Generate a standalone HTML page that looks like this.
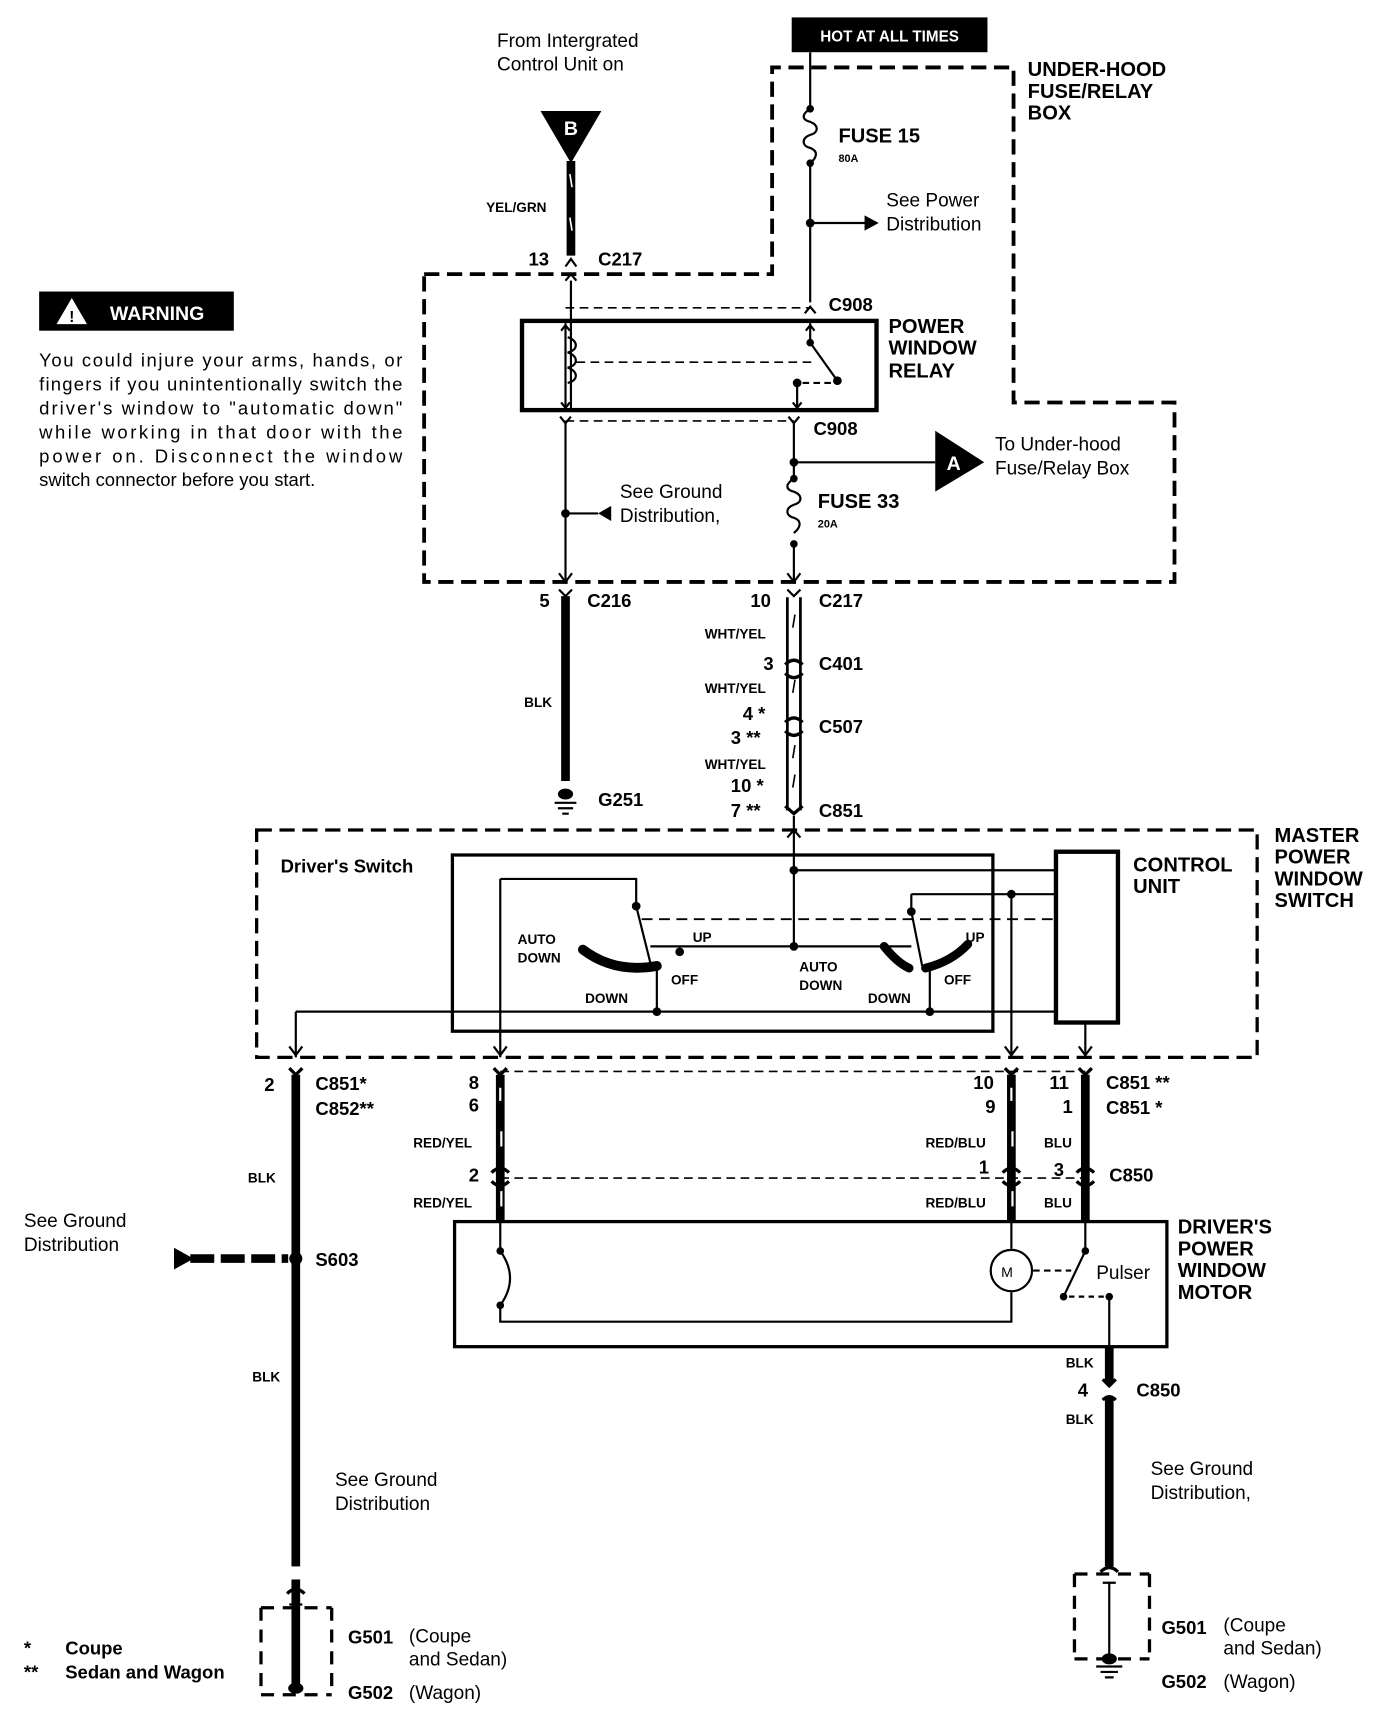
<!DOCTYPE html>
<html><head><meta charset="utf-8"><style>
html,body{margin:0;padding:0;background:#fff}
svg{display:block}
text{font-family:"Liberation Sans",sans-serif;fill:#000}
.b{font-weight:bold}
.t{font-size:17.5px}
.h{font-size:18.5px;font-weight:bold}
.s{font-size:12.5px;font-weight:bold}
.c{font-size:17px;font-weight:bold}
</style></head><body>
<svg width="1392" height="1710" viewBox="0 0 1280 1572" preserveAspectRatio="none" xmlns="http://www.w3.org/2000/svg">
<g fill="none" stroke="#000" stroke-width="2">
<!-- dashed boxes -->
<path d="M390 252 H710 V62 H932 V370 H1080 V535 H390 Z" stroke-width="3.5" stroke-dasharray="14 7"/>
<path d="M236 763 H1156 V972 H236 Z" stroke-width="3" stroke-dasharray="14 7"/>
<path d="M520 283 H745 M520 387 H730" stroke-dasharray="8 5" stroke-width="1.5"/>
<path d="M460 985 H998 M460 1083 H998" stroke-dasharray="8 5" stroke-width="1.5"/>
<path d="M240 1478 V1558 M305 1478 V1558 M240 1478 H305 M240 1558 H305" stroke-width="3" stroke-dasharray="12 8"/>
<path d="M988 1447 V1525 M1057 1447 V1525 M988 1447 H1057 M988 1525 H1057" stroke-width="3" stroke-dasharray="12 8"/>
<!-- top-left wire -->
<path d="M525 148 V235" stroke-width="8"/>
<path d="M524 160 l2 12 M524 200 l2 12" stroke="#fff" stroke-width="1.5"/>
<path d="M520 245 l5 -7 l5 7 M520 258 l5 -6 l5 6"/>
<path d="M525 258 V377"/>
<!-- fuse15 line -->
<path d="M745 48 V100 M745 150 V278"/>
<path d="M745 100 c-8 5 -8 10 0 12 c8 3 8 10 0 12 c-8 3 -8 10 0 12 c8 3 6 9 0 14"/>
<path d="M745 205 H798"/>
<path d="M740 288 l5 -6 l5 6"/>
<!-- relay -->
<rect x="480" y="295" width="326" height="82" stroke-width="4"/>
<path d="M520 297 V377 M516 304 l4 -5 l4 5 M516 370 l4 5 l4 -5"/>
<path d="M522 310 c10 3 10 12 0 14 c10 3 10 12 0 14 c10 3 10 12 0 14"/>
<path d="M530 333 H748" stroke-dasharray="8 5" stroke-width="1.5"/>
<path d="M745 297 V315 L770 350 M741 304 l4 -5 l4 5"/>
<path d="M738 352 H768" stroke-dasharray="6 4"/>
<path d="M733 352 V377 M729 370 l4 5 l4 -5"/>
<!-- below relay -->
<path d="M515 383 l5 6 l5 -6 M725 383 l5 6 l5 -6"/>
<path d="M520 389 V535 M730 389 V440 M730 500 V535 M514 527 l6 8 l6 -8 M724 527 l6 8 l6 -8"/>
<path d="M730 440 c-8 5 -8 10 0 12 c8 3 8 10 0 12 c-8 3 -8 10 0 12 c8 3 6 9 0 14"/>
<path d="M730 425 H860 M520 472 H550"/>
<!-- C216/C217 -->
<path d="M514 542 l6 6 l6 -6 M724 542 l6 6 l6 -6"/>
<path d="M520 548 V718" stroke-width="8"/>
<path d="M724 549 V745 M736 549 V745" stroke-width="2.5"/>
<path d="M731 565 l-2 12 M731 625 l-2 12 M731 685 l-2 12 M731 712 l-2 12" stroke-width="1.5"/>
<path d="M722 611 q8 -8 16 0 M722 619 q8 8 16 0 M722 664 q8 -8 16 0 M722 672 q8 8 16 0 M722 741 l8 7 l8 -7" stroke-width="3"/>
<!-- G251 -->
<path d="M510 738 H530 M513 743 H527 M517 748 H523"/>
<!-- master switch -->
<path d="M730 750 V870 M724 770 l6 -7 l6 7"/>
<rect x="416" y="786" width="497" height="162" stroke-width="3"/>
<rect x="971" y="783" width="57" height="157" stroke-width="4"/>
<path d="M730 800 H971 M460 808 H585 V833 L598 885 M598 870 H838 M838 822 H971 V822 M838 822 V838 L848 888"/>
<path d="M590 845 H971" stroke-dasharray="10 6" stroke-width="1.8"/>
<path d="M536 873 Q565 895 604 888" stroke-width="9" stroke-linecap="round"/>
<path d="M813 870 Q825 885 836 890" stroke-width="8" stroke-linecap="round"/>
<path d="M851 890 Q875 884 890 868" stroke-width="8" stroke-linecap="round"/>
<path d="M604 888 V930 M855 890 V930 M272 930 H971 M272 930 V972 M460 808 V972 M930 822 V972 M998 940 V972"/>
<path d="M266 962 l6 8 l6 -8 M454 962 l6 8 l6 -8 M924 962 l6 8 l6 -8 M992 962 l6 8 l6 -8"/>
<!-- lower connectors -->
<path d="M266 982 l6 6 l6 -6 M454 982 l6 6 l6 -6 M924 982 l6 6 l6 -6 M992 982 l6 6 l6 -6" stroke-width="3"/>
<path d="M272 988 V1550 M460 988 V1123 M930 988 V1123 M998 988 V1123" stroke-width="8"/>
<path d="M272 1440 V1452" stroke="#fff" stroke-width="9"/>
<path d="M460 1000 v12 M461 1040 v14 M461 1095 v14 M930 1000 v12 M931 1040 v14 M931 1095 v14" stroke="#fff" stroke-width="2"/>
<path d="M452 1078 q8 -8 16 0 M452 1086 q8 8 16 0 M922 1078 q8 -8 16 0 M922 1086 q8 8 16 0 M990 1078 q8 -8 16 0 M990 1086 q8 8 16 0" stroke="#000" stroke-width="3"/>
<path d="M175 1157 H265" stroke-width="8" stroke-dasharray="22 6"/>
<!-- motor -->
<rect x="418" y="1123" width="655" height="115" stroke-width="3"/>
<path d="M460 1123 V1150 Q478 1175 460 1200 V1215 H930 V1188 M930 1123 V1148"/>
<circle cx="930" cy="1168" r="19"/>
<path d="M950 1168 H985" stroke-dasharray="6 4"/>
<path d="M998 1123 V1150 L978 1192"/>
<path d="M983 1192 H1018" stroke-dasharray="5 4"/>
<path d="M1020 1192 V1238"/>
<path d="M1020 1238 V1440" stroke-width="8"/>
<path d="M1020 1272 V1284" stroke="#fff" stroke-width="9"/>
<path d="M1014 1268 l6 6 l6 -6 M1014 1287 q6 -6 12 0" stroke-width="3"/>
<path d="M1012 1445 q8 -8 16 0 M264 1465 q8 -8 16 0" stroke-width="3"/>
<path d="M1020 1455 V1525 M1014 1455 h12 M272 1475 V1550 M266 1475 h12"/>
<path d="M1008 1532 H1032 M1012 1537 H1028 M1016 1542 H1024"/>
</g>
<g fill="#000">
<polygon points="497,102 553,102 525,150"/>
<rect x="728" y="16" width="180" height="32"/>
<polygon points="795,198 808,205 795,212"/>
<polygon points="860,396 860,452 905,425"/>
<polygon points="550,472 562,465 562,479"/>
<polygon points="160,1147 160,1167 178,1157"/>
<rect x="36" y="268" width="179" height="36"/>
<circle cx="745" cy="100" r="3.5"/><circle cx="745" cy="150" r="3.5"/><circle cx="745" cy="205" r="4"/>
<circle cx="745" cy="315" r="3.5"/><circle cx="770" cy="350" r="4"/><circle cx="733" cy="352" r="4"/>
<circle cx="730" cy="425" r="4"/><circle cx="730" cy="440" r="3.5"/><circle cx="730" cy="500" r="3.5"/><circle cx="520" cy="472" r="4"/>
<ellipse cx="520" cy="730" rx="7" ry="5"/>
<circle cx="730" cy="800" r="4"/><circle cx="730" cy="870" r="4"/><circle cx="585" cy="833" r="4"/><circle cx="625" cy="875" r="4"/>
<circle cx="838" cy="838" r="4"/><circle cx="930" cy="822" r="4"/><circle cx="604" cy="930" r="4"/><circle cx="855" cy="930" r="4"/>
<circle cx="272" cy="1157" r="6"/>
<circle cx="460" cy="1150" r="3.5"/><circle cx="460" cy="1200" r="3.5"/><circle cx="998" cy="1150" r="3.5"/><circle cx="978" cy="1192" r="3.5"/><circle cx="1020" cy="1192" r="3.5"/>
<ellipse cx="1020" cy="1525" rx="7" ry="5"/><ellipse cx="272" cy="1552" rx="7" ry="5"/>
</g>
<polygon points="52,298 66,274 80,298" fill="#fff"/>
<text x="66" y="296" font-size="14" text-anchor="middle" class="b">!</text>
<text x="101" y="294" font-size="18" class="b" style="fill:#fff">WARNING</text>
<text x="818" y="38" font-size="14" class="b" text-anchor="middle" style="fill:#fff">HOT AT ALL TIMES</text>
<text x="525" y="124" font-size="18" class="b" text-anchor="middle" style="fill:#fff">B</text>
<text x="877" y="432" font-size="18" class="b" text-anchor="middle" style="fill:#fff">A</text>
<g class="t">
<text x="457" y="43">From Intergrated</text><text x="457" y="65">Control Unit on</text>
<text x="815" y="190">See Power</text><text x="815" y="212">Distribution</text>
<text x="570" y="458">See Ground</text><text x="570" y="480">Distribution,</text>
<text x="915" y="414">To Under-hood</text><text x="915" y="436">Fuse/Relay Box</text>
<text x="22" y="1128">See Ground</text><text x="22" y="1150">Distribution</text>
<text x="308" y="1366">See Ground</text><text x="308" y="1388">Distribution</text>
<text x="1058" y="1356">See Ground</text><text x="1058" y="1378">Distribution,</text>
<text x="1008" y="1176">Pulser</text>
<text x="376" y="1510">(Coupe</text><text x="376" y="1531">and Sedan)</text><text x="376" y="1562">(Wagon)</text>
<text x="1125" y="1500">(Coupe</text><text x="1125" y="1521">and Sedan)</text><text x="1125" y="1552">(Wagon)</text>
<text x="926" y="1174" font-size="13" text-anchor="middle">M</text>
</g>
<g font-size="17">
<text x="36" y="337" textLength="334">You could injure your arms, hands, or</text>
<text x="36" y="359" textLength="334">fingers if you unintentionally switch the</text>
<text x="36" y="381" textLength="334">driver's window to "automatic down"</text>
<text x="36" y="403" textLength="334">while working in that door with the</text>
<text x="36" y="425" textLength="334">power on. Disconnect the window</text>
<text x="36" y="447">switch connector before you start.</text>
</g>
<g class="h">
<text x="945" y="70">UNDER-HOOD</text><text x="945" y="90">FUSE/RELAY</text><text x="945" y="110">BOX</text>
<text x="771" y="131">FUSE 15</text><text x="752" y="467">FUSE 33</text>
<text x="817" y="306">POWER</text><text x="817" y="326">WINDOW</text><text x="817" y="347">RELAY</text>
<text x="1172" y="774">MASTER</text><text x="1172" y="794">POWER</text><text x="1172" y="814">WINDOW</text><text x="1172" y="834">SWITCH</text>
<text x="1042" y="801">CONTROL</text><text x="1042" y="821">UNIT</text>
<text x="1083" y="1134">DRIVER'S</text><text x="1083" y="1154">POWER</text><text x="1083" y="1174">WINDOW</text><text x="1083" y="1194">MOTOR</text>
</g>
<g class="c">
<text x="486" y="244">13</text><text x="550" y="244">C217</text>
<text x="762" y="286">C908</text><text x="748" y="400">C908</text>
<text x="496" y="558">5</text><text x="540" y="558">C216</text>
<text x="690" y="558">10</text><text x="753" y="558">C217</text>
<text x="702" y="616">3</text><text x="753" y="616">C401</text>
<text x="683" y="662">4 *</text><text x="672" y="684">3 **</text><text x="753" y="674">C507</text>
<text x="672" y="728">10 *</text><text x="672" y="751">7 **</text><text x="753" y="751">C851</text>
<text x="550" y="741">G251</text>
<text x="258" y="802">Driver's Switch</text>
<text x="243" y="1003">2</text><text x="290" y="1002">C851*</text><text x="290" y="1025">C852**</text>
<text x="431" y="1001">8</text><text x="431" y="1022">6</text>
<text x="895" y="1001">10</text><text x="906" y="1023">9</text>
<text x="965" y="1001">11</text><text x="977" y="1023">1</text>
<text x="1017" y="1001">C851 **</text><text x="1017" y="1024">C851 *</text>
<text x="431" y="1086">2</text><text x="900" y="1079">1</text><text x="969" y="1081">3</text><text x="1020" y="1086">C850</text>
<text x="290" y="1164">S603</text>
<text x="991" y="1284">4</text><text x="1045" y="1284">C850</text>
<text x="320" y="1511">G501</text><text x="320" y="1562">G502</text>
<text x="1068" y="1502">G501</text><text x="1068" y="1552">G502</text>
<text x="22" y="1521">*</text><text x="60" y="1521">Coupe</text>
<text x="22" y="1543">**</text><text x="60" y="1543">Sedan and Wagon</text>
</g>
<g class="s">
<text x="771" y="149" font-size="10">80A</text><text x="752" y="485" font-size="10">20A</text>
<text x="447" y="195">YEL/GRN</text>
<text x="648" y="587">WHT/YEL</text><text x="648" y="637">WHT/YEL</text><text x="648" y="707">WHT/YEL</text>
<text x="482" y="650">BLK</text>
<text x="476" y="868">AUTO</text><text x="476" y="885">DOWN</text>
<text x="637" y="866">UP</text><text x="617" y="905">OFF</text><text x="538" y="922">DOWN</text>
<text x="735" y="893">AUTO</text><text x="735" y="910">DOWN</text>
<text x="888" y="866">UP</text><text x="868" y="905">OFF</text><text x="798" y="922">DOWN</text>
<text x="228" y="1087">BLK</text><text x="232" y="1270">BLK</text>
<text x="380" y="1055">RED/YEL</text><text x="380" y="1110">RED/YEL</text>
<text x="851" y="1055">RED/BLU</text><text x="851" y="1110">RED/BLU</text>
<text x="960" y="1055">BLU</text><text x="960" y="1110">BLU</text>
<text x="980" y="1257">BLK</text><text x="980" y="1309">BLK</text>
</g>
</svg>
</body></html>
